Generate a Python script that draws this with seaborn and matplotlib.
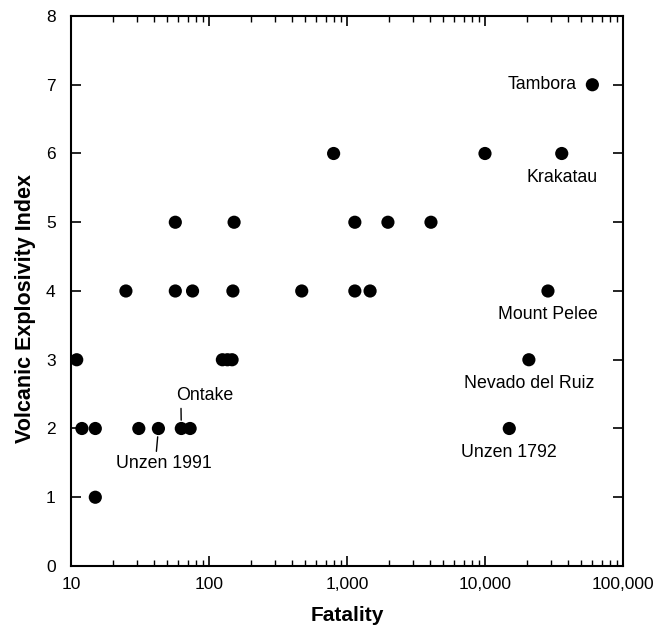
import matplotlib
matplotlib.use("Agg")
import matplotlib.pyplot as plt
import seaborn as sns
import pandas as pd
from matplotlib.ticker import FixedLocator, LogLocator, NullFormatter, FuncFormatter

fatality = [60000, 800, 10000, 36000,
            57, 152, 1140, 1980, 4060,
            25, 57, 76, 149, 470, 1140, 1470, 28600,
            11, 125, 136, 147, 20800,
            12, 15, 31, 43, 63, 73, 15000,
            15]
vei = [7, 6, 6, 6,
       5, 5, 5, 5, 5,
       4, 4, 4, 4, 4, 4, 4, 4,
       3, 3, 3, 3, 3,
       2, 2, 2, 2, 2, 2, 2,
       1]

label_names = ["Tambora", "Krakatau", "Mount Pelee", "Nevado del Ruiz", "Unzen 1792"]
label_x = [60000, 36000, 28600, 20800, 15000]
label_y = [7, 6, 4, 3, 2]

df = pd.DataFrame({"Fatality": fatality, "VEI": vei})

sns.set_style("ticks")
plt.rcParams["font.family"] = ["Liberation Sans", "DejaVu Sans"]
plt.rcParams["text.color"] = "black"
plt.rcParams["axes.labelcolor"] = "black"
plt.rcParams["xtick.color"] = "black"
plt.rcParams["ytick.color"] = "black"
plt.rcParams["axes.edgecolor"] = "black"

fig = plt.figure(figsize=(6.68, 6.30), dpi=100)
ax = fig.add_axes([0.1063, 0.1016, 0.8263, 0.873])

sns.scatterplot(data=df, x="Fatality", y="VEI", color="black", s=90,
                edgecolor="none", ax=ax, legend=False)

ax.set_xscale("log")
ax.set_xlim(10, 100000)
ax.set_ylim(0, 8)
ax.yaxis.set_major_locator(FixedLocator(range(0, 9)))
ax.xaxis.set_major_locator(LogLocator(base=10))
ax.xaxis.set_minor_locator(LogLocator(base=10, subs=range(2, 10)))
ax.xaxis.set_minor_formatter(NullFormatter())
ax.xaxis.set_major_formatter(FuncFormatter(lambda v, p: f"{int(round(v)):,}"))

ax.tick_params(axis="both", which="major", direction="in", length=7, width=1.2,
               top=True, right=True, labelsize=12.5, colors="black")
ax.tick_params(axis="x", which="major", pad=8)
ax.tick_params(axis="y", which="major", pad=11)
ax.tick_params(axis="x", which="minor", direction="in", length=4, width=1.0,
               top=True, bottom=True)
for sp in ax.spines.values():
    sp.set_linewidth(1.5)
    sp.set_visible(True)
    sp.set_color("black")

ax.set_xlabel("Fatality", fontsize=15, fontweight="bold", labelpad=10)
ax.set_ylabel("Volcanic Explosivity Index", fontsize=15.5, fontweight="bold")
ax.yaxis.set_label_coords(-0.083, 0.469)
ax.yaxis.label.set_va("center")

fs = 12.8
# Tambora: left of point
ax.annotate("Tambora", xy=(label_x[0], label_y[0]), xytext=(-11, 0),
            textcoords="offset points", ha="right", va="center", fontsize=fs)
# others: below point
for name, xv, yv in zip(label_names[1:], label_x[1:], label_y[1:]):
    ax.annotate(name, xy=(xv, yv), xytext=(0, -11), textcoords="offset points",
                ha="center", va="top", fontsize=fs)

# Ontake (63, 2) with leader line upward
ax.annotate("Ontake", xy=(63, 2), xytext=(58, 2.36), ha="left", va="bottom",
            fontsize=fs,
            arrowprops=dict(arrowstyle="-", color="black", lw=1,
                            shrinkA=1, shrinkB=6,
                            relpos=(0.08, 0.0)))
# Unzen 1991 (43, 2) with leader line downward
ax.annotate("Unzen 1991", xy=(43, 2), xytext=(47, 1.62), ha="center", va="top",
            fontsize=fs,
            arrowprops=dict(arrowstyle="-", color="black", lw=1,
                            shrinkA=0, shrinkB=6, relpos=(0.42, 1.0)))

fig.savefig("out.png", dpi=100)
